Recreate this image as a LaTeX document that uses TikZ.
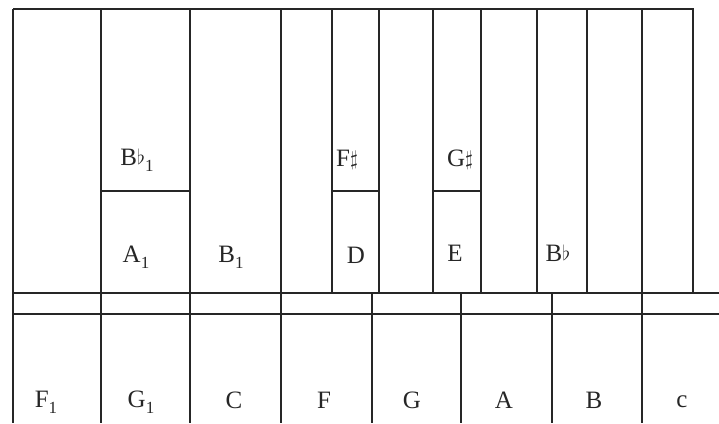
\documentclass[tikz,border=0pt]{standalone}
\usepackage{fontspec}
\setmainfont{Liberation Serif}
\newcommand{\sbone}{\raisebox{-6pt}{\fontsize{17}{17}\selectfont 1}}
\newcommand{\flt}{\raisebox{1pt}{\fontsize{20}{20}\selectfont$\flat$}}
\newcommand{\shp}{\raisebox{1pt}{\fontsize{22}{22}\selectfont$\sharp$}}
\begin{document}
\begin{tikzpicture}[x=1pt,y=-1pt,
  keyline/.style={line width=1.5pt,draw=black!85},
  lbl/.style={inner sep=0pt,font=\fontsize{25}{30}\selectfont,text=black!85}]
\useasboundingbox (0,0) rectangle (719,423);
% outline and long lines
\draw[keyline] (13,9) -- (693,9) -- (693,293);
\draw[keyline] (13,293) -- (719,293);
\draw[keyline] (13,314) -- (719,314);
\foreach \x in {13,101,190,281,642} \draw[keyline] (\x,9) -- (\x,423);
% upper keys
\foreach \x in {332,379,433,481,537,587} \draw[keyline] (\x,9) -- (\x,293);
% lower split lines
\foreach \x in {372,461,552} \draw[keyline] (\x,293) -- (\x,423);
% short horizontals
\draw[keyline] (101,191) -- (190,191);
\draw[keyline] (332,191) -- (379,191);
\draw[keyline] (433,191) -- (481,191);
% labels
\node[lbl] (bb1) at (137,160) {B\flt\sbone};
\node[lbl] (fs) at (347,160) {F\shp};
\node[lbl] (gs) at (460,160) {G\shp};
\node[lbl] (a1) at (136,257) {A\sbone};
\node[lbl] (b1) at (231,257) {B\sbone};
\node[lbl] (d) at (356,255) {D};
\node[lbl] (e) at (455,253) {E};
\node[lbl] (bb) at (558,253) {B\flt};
\node[lbl] (f1) at (46,402) {F\sbone};
\node[lbl] (g1) at (141,402) {G\sbone};
\node[lbl] (c) at (234,400) {C};
\node[lbl] (f) at (324,400) {F};
\node[lbl] (g) at (412,400) {G};
\node[lbl] (a) at (504,400) {A};
\node[lbl] (b) at (594,400) {B};
\node[lbl] (cc) at (682,402) {c};
\end{tikzpicture}
\end{document}
